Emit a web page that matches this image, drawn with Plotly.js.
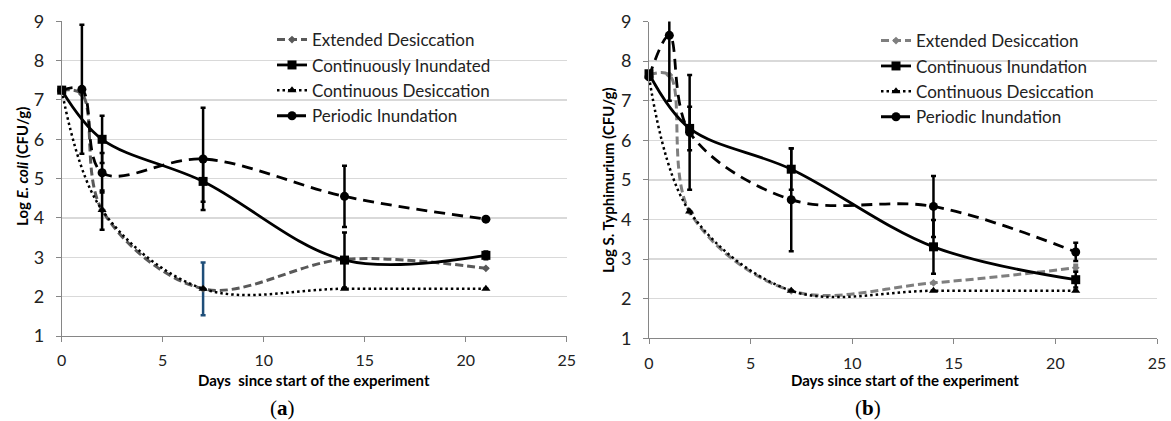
<!DOCTYPE html>
<html>
<head>
<meta charset="utf-8">
<script src="https://cdn.plot.ly/plotly-3.0.1.min.js"></script>
<style>html,body{margin:0;padding:0;background:#fff;}#chart{width:1171px;height:421px;}</style>
</head>
<body>
<div id="chart"></div>
<script>
// ---- data ----
const seriesNames = ["Extended Desiccation", "Continuously Inundated", "Continuous Desiccation", "Periodic Inundation"];
const seriesNamesB = ["Extended Desiccation", "Continuous Inundation", "Continuous Desiccation", "Periodic Inundation"];
const daysAll = [0, 1, 2, 7, 14, 21];
const daysMain = [0, 2, 7, 14, 21];
const xTicks = [0, 5, 10, 15, 20, 25];
const yTicks = [1, 2, 3, 4, 5, 6, 7, 8, 9];

// (a) E. coli
const ecoliExtDes = [7.25, 7.15, 4.2, 2.2, 2.95, 2.72];
const ecoliExtDesErr = [0, 0, 0, 0.67, 0, 0];
const ecoliContInund = [7.25, 6.0, 4.93, 2.93, 3.05];
const ecoliContInundErr = [0, 0.6, 0.52, 0.7, 0.1];
const ecoliContDes = [7.25, 4.2, 2.2, 2.2, 2.2];
const ecoliContDesErr = [0, 0.5, 0, 0, 0];
const ecoliPerInund = [7.25, 7.27, 5.15, 5.5, 4.55, 3.97];
const ecoliPerInundErr = [0, 1.64, 0.5, 1.3, 0.78, 0];

// (b) S. Typhimurium
const salExtDes = [7.65, 7.65, 4.2, 2.2, 2.4, 2.78];
const salExtDesErr = [0, 0, 0, 0, 0, 0.08];
const salContInund = [7.68, 6.3, 5.27, 3.31, 2.48];
const salContInundErr = [0, 0.55, 0.52, 0.68, 0.2];
const salContDes = [7.6, 4.2, 2.2, 2.2, 2.2];
const salContDesErr = [0, 0, 0, 0, 0];
const salPerInund = [7.6, 8.65, 6.2, 4.5, 4.33, 3.18];
const salPerInundErr = [0, 1.65, 1.45, 1.3, 0.77, 0.23];

// ---- styles ----
const FONT = "Lato, 'Open Sans', sans-serif";
function err(arr, color) {
  return {type: 'data', array: arr, visible: true, color: color || '#000', thickness: 2.5, width: 2.5};
}
function mk(x, y, e, name, style, xa, ya, leg, grp, errColor) {
  return Object.assign({
    type: 'scatter', mode: 'lines+markers', x: x, y: y, name: name,
    xaxis: xa, yaxis: ya, legend: leg, legendgroup: grp, cliponaxis: false,
    error_y: err(e, errColor)
  }, style);
}
const stED = (c) => ({line: {color: c, width: 3, dash: '8px,4px', shape: 'spline', smoothing: 1}, marker: {symbol: 'diamond', size: 6, color: c}});
const stCI = {line: {color: '#000', width: 2.8, shape: 'spline', smoothing: 1}, marker: {symbol: 'square', size: 9, color: '#000'}};
const stCD = {line: {color: '#000', width: 2.5, dash: '2.5px,3px', shape: 'spline', smoothing: 1}, marker: {symbol: 'triangle-up', size: 8, color: '#000'}};
const stPI = {line: {color: '#000', width: 2.8, dash: '11px,7px', shape: 'spline', smoothing: 1}, marker: {symbol: 'circle', size: 9, color: '#000'}};

const traces = [
  mk(daysAll, ecoliExtDes, ecoliExtDesErr, seriesNames[0], stED('#595959'), 'x', 'y', 'legend', 'a1', '#1f4e79'),
  mk(daysMain, ecoliContInund, ecoliContInundErr, seriesNames[1], stCI, 'x', 'y', 'legend', 'a2'),
  mk(daysMain, ecoliContDes, ecoliContDesErr, seriesNames[2], stCD, 'x', 'y', 'legend', 'a3'),
  mk(daysAll, ecoliPerInund, ecoliPerInundErr, seriesNames[3], stPI, 'x', 'y', 'legend', 'a4'),
  mk(daysAll, salExtDes, salExtDesErr, seriesNamesB[0], stED('#7f7f7f'), 'x2', 'y2', 'legend2', 'b1', '#7f7f7f'),
  mk(daysMain, salContInund, salContInundErr, seriesNamesB[1], stCI, 'x2', 'y2', 'legend2', 'b2'),
  mk(daysMain, salContDes, salContDesErr, seriesNamesB[2], stCD, 'x2', 'y2', 'legend2', 'b3'),
  mk(daysAll, salPerInund, salPerInundErr, seriesNamesB[3], stPI, 'x2', 'y2', 'legend2', 'b4')
];

const W = 1171, H = 421;
const px = (v) => v / W;
const py = (v) => 1 - v / H;

function xax(d) {
  return {domain: d, range: [0, 25], tickvals: xTicks, ticks: 'outside', ticklen: 5, tickcolor: '#868686',
    showline: true, linecolor: '#868686', linewidth: 1, showgrid: false, zeroline: false,
    tickfont: {family: FONT, size: 16, color: '#222'}, ticklabelstandoff: 5, fixedrange: true};
}
function yax(d, anchor) {
  return {domain: d, range: [1, 9], tickvals: yTicks, ticks: 'outside', ticklen: 5, tickcolor: '#868686',
    showline: true, linecolor: '#868686', linewidth: 1, showgrid: true, gridcolor: '#d9d9d9', gridwidth: 1.3,
    zeroline: false, anchor: anchor, tickfont: {family: FONT, size: 18, color: '#222'}, ticklabelstandoff: 8, fixedrange: true};
}
const legendBase = {bgcolor: 'rgba(0,0,0,0)', font: {family: FONT, size: 17, color: '#222'}, itemwidth: 30,
  xanchor: 'left', yanchor: 'top', traceorder: 'grouped', tracegroupgap: 0.3};

function ann(text, x, y, size, family, angle) {
  return {text: text, x: px(x), y: py(y), xref: 'paper', yref: 'paper', xanchor: 'center', yanchor: 'middle',
    textangle: angle || 0, showarrow: false, font: {family: family || FONT, size: size, color: '#000'}};
}

const layout = {
  width: W, height: H, margin: {l: 0, r: 0, t: 0, b: 0},
  paper_bgcolor: '#fff', plot_bgcolor: '#fff', showlegend: true,
  xaxis: Object.assign(xax([px(61.7), px(566.7)]), {anchor: 'y'}),
  yaxis: yax([1 - 336 / H, 1 - 21.3 / H], 'x'),
  xaxis2: Object.assign(xax([px(649), px(1157)]), {anchor: 'y2'}),
  yaxis2: yax([1 - 338.3 / H, 1 - 21.5 / H], 'x2'),
  legend: Object.assign({}, legendBase, {x: px(272), y: py(22)}),
  legend2: Object.assign({}, legendBase, {x: px(876), y: py(23)}),
  annotations: [
    ann('<b>Log <i>E. coli</i> (CFU/g)</b>', 22, 167, 15, null, -90),
    ann('<b>Log S. Typhimurium (CFU/g)</b>', 608, 180, 15, null, -90),
    ann('<b>Days  since start of the experiment</b>', 313.5, 380, 15),
    ann('<b>Days since start of the experiment</b>', 905, 380, 15),
    ann('(<b>a</b>)', 282, 408, 21, "'Liberation Serif', serif"),
    ann('(<b>b</b>)', 868, 408, 21, "'Liberation Serif', serif")
  ]
};

Plotly.newPlot('chart', traces, layout, {displayModeBar: false, staticPlot: true});
</script>
</body>
</html>
